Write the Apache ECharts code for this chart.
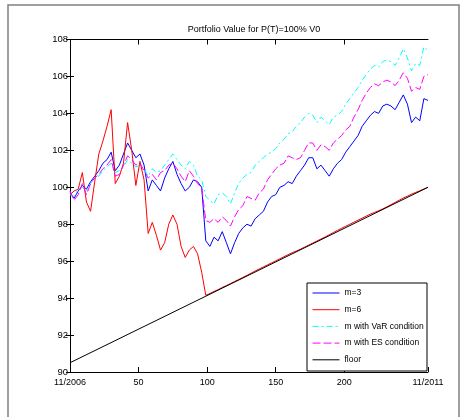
<!DOCTYPE html>
<html>
<head>
<meta charset="utf-8">
<script src="https://cdn.jsdelivr.net/npm/echarts@6/dist/echarts.min.js"></script>
<style>
  html, body { margin: 0; padding: 0; background: #fff; }
  #chart { width: 466px; height: 417px; }
</style>
</head>
<body>
<div id="chart"></div>
<script>
// weeks since 11/2006
var weeks = [0, 3, 6, 9, 12, 15, 18, 21, 24, 27, 30,
  33, 36, 39, 42, 45, 48, 51, 54, 57, 60, 63,
  66, 69, 72, 75, 78, 81, 84, 87, 90, 93, 96,
  99, 102, 105, 108, 111, 114, 117, 120, 123, 126, 129,
  132, 135, 138, 141, 144, 147, 150, 153, 156, 159, 162,
  165, 168, 171, 174, 177, 180, 183, 186, 189, 192, 195,
  198, 201, 204, 207, 210, 213, 216, 219, 222, 225, 228,
  231, 234, 237, 240, 243, 246, 249, 252, 255, 258, 261];

var m3 = [99.7, 99.4, 99.8, 100.1, 99.9, 100.3, 100.6, 100.9, 101.3, 101.5, 101.9,
  100.9, 101.2, 101.8, 102.4, 102.0, 101.6, 101.8, 101.2, 99.8, 100.4, 100.1,
  99.8, 100.5, 101.0, 101.4, 100.7, 100.2, 99.8, 100.0, 100.4, 100.3, 100.0,
  97.1, 96.8, 97.3, 97.1, 97.6, 97.0, 96.4, 97.0, 97.5, 97.8, 98.0,
  97.9, 98.3, 98.5, 98.7, 99.2, 99.5, 99.6, 100.0, 100.1, 100.3, 100.2,
  100.6, 100.9, 101.2, 101.6, 101.6, 101.0, 101.2, 100.9, 100.6, 101.0, 101.3,
  101.5, 101.9, 102.2, 102.5, 102.8, 103.3, 103.6, 103.9, 104.1, 104.0, 104.4,
  104.5, 104.4, 104.2, 104.6, 105.0, 104.5, 103.5, 103.8, 103.6, 104.8, 104.7];

var m6 = [99.6, 99.8, 99.9, 100.8, 99.2, 98.7, 100.3, 101.8, 102.5, 103.3, 104.2,
  100.2, 100.6, 101.3, 103.5, 102.0, 100.1, 101.4, 100.4, 97.5, 98.1, 97.4,
  96.6, 97.0, 98.0, 98.5, 98.0, 96.8, 96.2, 96.6, 96.8, 96.4, 95.4,
  94.15, 94.25, 94.36, 94.46, 94.58, 94.68, 94.79, 94.90, 95.01, 95.12, 95.23,
  95.35, 95.47, 95.58, 95.69, 95.80, 95.91, 96.02, 96.13, 96.24, 96.35, 96.46,
  96.55, 96.65, 96.76, 96.87, 96.98, 97.09, 97.20, 97.31, 97.43, 97.55, 97.67,
  97.78, 97.89, 98.00, 98.11, 98.22, 98.33, 98.44, 98.55, 98.64, 98.73, 98.83,
  98.94, 99.06, 99.18, 99.30, 99.42, 99.52, 99.63, 99.72, 99.81, 99.91, 100.00];

var mVaR = [99.6, 99.5, 99.9, 100.0, 99.8, 100.2, 100.5, 100.6, 100.9, 101.1, 101.3,
  100.8, 100.9, 101.1, 101.5, 101.3, 101.1, 101.2, 101.0, 100.6, 101.0, 100.8,
  100.9, 101.2, 101.5, 101.8, 101.5, 101.2, 101.0, 101.4, 101.2, 100.6, 100.4,
  99.5, 99.3, 99.1, 99.6, 99.7, 99.5, 99.1, 99.7, 100.2, 100.5, 100.7,
  100.8, 101.2, 101.4, 101.6, 101.8, 101.9, 102.1, 102.4, 102.6, 102.9, 103.0,
  103.3, 103.5, 103.8, 104.0, 103.9, 103.5, 103.8, 103.6, 103.4, 103.8, 103.9,
  104.1, 104.5, 104.8, 105.1, 105.4, 105.8, 106.1, 106.4, 106.6, 106.5, 106.8,
  106.9, 106.8, 106.6, 107.0, 107.5, 107.0, 106.3, 106.7, 106.6, 107.6, 107.4];

var mES = [99.8, 99.3, 99.6, 100.2, 99.6, 100.2, 100.5, 100.7, 101.0, 101.2, 101.5,
  100.6, 100.7, 101.2, 101.7, 101.5, 101.2, 101.3, 100.9, 100.5, 100.7, 100.4,
  100.8, 100.9, 101.2, 101.3, 101.0, 100.6, 100.3, 100.9, 100.6, 100.2, 100.0,
  98.2, 98.1, 98.3, 98.1, 98.4, 98.2, 97.9, 98.4, 98.8, 99.0, 99.5,
  99.4, 99.3, 99.7, 99.9, 100.4, 100.7, 101.0, 101.2, 101.3, 101.7, 101.6,
  101.5, 101.6, 102.0, 102.4, 102.4, 102.0, 102.3, 102.2, 102.0, 102.4, 102.6,
  102.8, 103.1, 103.3, 103.8, 104.2, 104.7, 105.1, 105.4, 105.6, 105.5, 105.7,
  105.8, 105.7, 105.5, 105.8, 106.2, 105.9, 105.2, 105.4, 105.3, 106.0, 106.1];

var floorWeeks = [0, 261];
var floorValues = [90.5, 100.0];

var xTicks = [0, 50, 100, 150, 200, 261];
var xTickLabels = ['11/2006', '50', '100', '150', '200', '11/2011'];

var font = "'Liberation Sans Narrow', 'Arial Narrow', 'Liberation Sans', Arial, sans-serif";

function pairs(xs, ys) {
  return xs.map(function (x, i) { return [x, ys[i]]; });
}

var chart = echarts.init(document.getElementById('chart'));
chart.setOption({
  animation: false,
  backgroundColor: '#fff',
  title: {
    text: 'Portfolio Value for P(T)=100% V0',
    left: 249,
    textAlign: 'center',
    top: 20,
    textStyle: { fontFamily: font, fontSize: 9, fontWeight: 'normal', color: '#000' }
  },
  grid: { left: 70, right: 38, top: 39.5, bottom: 45 },
  xAxis: [{
    type: 'value',
    min: 0,
    max: 261,
    position: 'bottom',
    axisLine: { lineStyle: { color: '#000', width: 1 } },
    axisTick: { inside: true, length: 5, customValues: xTicks, lineStyle: { color: '#000' } },
    axisLabel: {
      customValues: xTicks,
      margin: 6,
      color: '#000',
      fontFamily: font,
      fontSize: 9,
      formatter: function (v) {
        var i = xTicks.indexOf(v);
        return i >= 0 ? xTickLabels[i] : '';
      }
    },
    splitLine: { show: false }
  }, {
    type: 'value',
    min: 0,
    max: 261,
    position: 'top',
    axisLine: { lineStyle: { color: '#000', width: 1 } },
    axisTick: { inside: true, length: 5, customValues: [50, 100, 150, 200], lineStyle: { color: '#000' } },
    axisLabel: { show: false },
    splitLine: { show: false }
  }],
  yAxis: [{
    type: 'value',
    min: 90,
    max: 108,
    interval: 2,
    axisLine: { show: true, lineStyle: { color: '#000', width: 1 } },
    axisTick: { show: true, inside: true, length: 4, lineStyle: { color: '#000' } },
    axisLabel: { margin: 2, color: '#000', fontFamily: font, fontSize: 9.5 },
    splitLine: { show: false }
  }, {
    type: 'value',
    min: 90,
    max: 108,
    interval: 2,
    position: 'right',
    axisLine: { show: true, lineStyle: { color: '#000', width: 1 } },
    axisTick: { show: true, inside: true, length: 4, lineStyle: { color: '#000' } },
    axisLabel: { show: false },
    splitLine: { show: false }
  }],
  legend: {
    orient: 'vertical',
    left: 312,
    top: 288,
    padding: 0,
    itemWidth: 27,
    itemHeight: 10,
    itemGap: 6.7,
    itemStyle: { opacity: 0 },
    lineStyle: { width: 1 },
    textStyle: { fontFamily: font, fontSize: 8.5, color: '#000', height: 10, lineHeight: 10 },
    data: ['m=3', 'm=6', 'm with VaR condition', 'm with ES condition', 'floor']
  },
  graphic: {
    elements: [{
      type: 'rect',
      z: 3,
      shape: { x: 307, y: 283, width: 120, height: 88 },
      style: { fill: '#fff', stroke: '#000', lineWidth: 1 }
    }, {
      type: 'rect',
      z: 0,
      silent: true,
      shape: { x: 8, y: 5, width: 451, height: 420 },
      style: { fill: 'none', stroke: '#808080', lineWidth: 1.5 }
    }]
  },
  series: [{
    name: 'm=3',
    type: 'line',
    showSymbol: false,
    symbol: 'none',
    data: pairs(weeks, m3),
    lineStyle: { color: '#0000ff', width: 1 },
    itemStyle: { color: '#0000ff' }
  }, {
    name: 'm=6',
    type: 'line',
    showSymbol: false,
    symbol: 'none',
    data: pairs(weeks, m6),
    lineStyle: { color: '#ff0000', width: 1 },
    itemStyle: { color: '#ff0000' }
  }, {
    name: 'm with VaR condition',
    type: 'line',
    showSymbol: false,
    symbol: 'none',
    data: pairs(weeks, mVaR),
    lineStyle: { color: '#00ffff', width: 1, type: [6, 3, 2, 3] },
    itemStyle: { color: '#00ffff' }
  }, {
    name: 'm with ES condition',
    type: 'line',
    showSymbol: false,
    symbol: 'none',
    data: pairs(weeks, mES),
    lineStyle: { color: '#ff00ff', width: 1, type: [8, 3] },
    itemStyle: { color: '#ff00ff' }
  }, {
    name: 'floor',
    type: 'line',
    showSymbol: false,
    symbol: 'none',
    data: pairs(floorWeeks, floorValues),
    lineStyle: { color: '#000', width: 1 },
    itemStyle: { color: '#000' }
  }]
});
</script>
</body>
</html>
